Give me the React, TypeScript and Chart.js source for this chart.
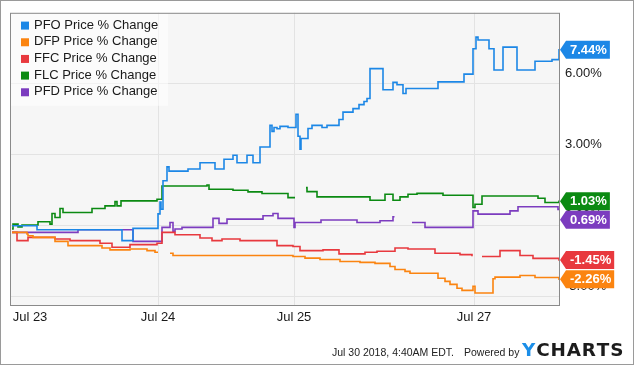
import { useEffect, useRef } from 'react';
import { Chart, registerables } from 'chart.js';

Chart.register(...registerables);

const FONT = "'Liberation Sans', Arial, sans-serif";

// x is a session index (0..550 across the shown period), y is price % change
const xTickValues = [20, 148, 284, 464];
const xTickLabels = ['Jul 23', 'Jul 24', 'Jul 25', 'Jul 27'];
const yTickValues = [-3, 0, 3, 6];

const seriesNames = ['PFO Price % Change', 'DFP Price % Change', 'FFC Price % Change', 'FLC Price % Change', 'PFD Price % Change'];
const seriesColors = ['#1c87e6', '#fb8410', '#e8393e', '#0b8a12', '#7c3cbf'];

type P = [number, number | null];

const pfoPoints: P[] = [
  [2, 0.0], [27, -0.17], [112, -0.63], [123, -0.11], [148, 0.5], [150, 1.0], [151, 0.7], [153, 1.9],
  [157, 2.49], [159, 2.31], [178, 2.4], [190, 2.66], [205, 2.4], [214, 2.81], [223, 2.98], [227, 2.66],
  [237, 2.98], [243, 2.66], [250, 3.33], [260, 4.24], [262, 3.99], [264, 4.15], [267, 4.1], [270, 4.2],
  [278, 4.15], [286, 4.71], [288, 3.78], [290, 3.23], [291, 3.69], [298, 4.11], [302, 4.24], [312, 4.15],
  [317, 4.24], [329, 4.49], [333, 4.8], [343, 4.95], [349, 5.12], [354, 5.25], [357, 5.38], [360, 6.64],
  [373, 5.75], [383, 6.06], [387, 5.96], [393, 5.59], [396, 5.8], [428, 6.08], [454, 6.41], [463, 7.48],
  [466, 7.97], [468, 7.85], [479, 7.48], [484, 6.58], [493, 7.55], [507, 6.58], [525, 6.95], [542, 7.02],
  [549, 7.44], [550, 7.44],
];

const dfpPoints: P[] = [
  [2, -0.28], [17, -0.35], [18, -0.42], [23, -0.49], [45, -0.66], [58, -0.84], [92, -0.94], [100, -1.02],
  [120, -0.98], [137, -1.05], [145, -1.12], [148, -1.12], [149, null], [160, -1.16], [163, -1.26],
  [283, -1.3], [295, -1.37], [310, -1.43], [330, -1.51], [350, -1.55], [365, -1.59], [380, -1.72],
  [385, -1.85], [395, -1.93], [400, -2.01], [428, -2.22], [435, -2.35], [440, -2.48], [447, -2.64],
  [452, -2.73], [463, -2.56], [465, -2.84], [483, -2.24], [485, -2.17], [510, -2.1], [525, -2.19],
  [549, -2.26], [550, -2.26],
];

const ffcPoints: P[] = [
  [2, -0.28], [7, -0.63], [18, -0.49], [45, -0.56], [60, -0.63], [90, -0.74], [102, -0.91], [120, -0.8],
  [147, -0.74], [152, -0.28], [165, -0.38], [190, -0.52], [202, -0.63], [212, -0.56], [230, -0.63],
  [267, -0.84], [283, -0.88], [290, -1.05], [313, -1.02], [329, -1.19], [355, -1.12], [367, -1.08],
  [385, -0.94], [398, -0.98], [425, -1.16], [450, -1.22], [462, -1.29], [463, null], [472, -1.3],
  [490, -1.05], [510, -1.26], [523, -1.38], [549, -1.45], [550, -1.45],
];

const flcPoints: P[] = [
  [2, -0.14], [3, 0.07], [8, -0.05], [12, 0.03], [28, 0.17], [40, 0.07], [42, 0.52], [45, 0.35],
  [50, 0.73], [53, 0.56], [82, 0.73], [95, 0.84], [105, 1.02], [107, 0.84], [111, 1.05], [147, 1.12],
  [152, 1.68], [197, 1.72], [199, 1.54], [223, 1.5], [238, 1.43], [252, 1.36], [278, 1.19], [285, 1.19],
  [286, null], [296, 1.61], [297, 1.44], [307, 1.22], [360, 1.08], [375, 1.33], [383, 1.08], [390, 1.22],
  [398, 1.33], [407, 1.37], [433, 1.29], [463, 0.77], [465, 0.91], [472, 1.26], [528, 1.16], [535, 0.98],
  [549, 1.03], [550, 1.03],
];

const pfdPoints: P[] = [
  [2, -0.28], [68, -0.17], [123, -0.66], [152, -0.07], [160, 0.14], [163, -0.24], [165, -0.14],
  [172, -0.07], [203, 0.31], [209, 0.1], [217, 0.28], [253, 0.42], [263, 0.52], [268, 0.31],
  [284, -0.07], [285, 0.14], [311, 0.24], [347, 0.14], [370, 0.21], [383, 0.38], [384.5, 0.38],
  [385, null], [402, 0.14], [415, -0.07], [463, 0.63], [468, 0.49], [500, 0.63], [508, 0.8],
  [548, 0.69], [550, 0.69],
];

const seriesPoints = [pfoPoints, dfpPoints, ffcPoints, flcPoints, pfdPoints];

const plotBgPlugin = {
  id: 'plotBg',
  beforeDraw(chart: any) {
    const { ctx, chartArea: a } = chart;
    ctx.save();
    ctx.fillStyle = '#ffffff';
    ctx.fillRect(0, 0, chart.width, chart.height);
    ctx.fillStyle = '#f6f6f6';
    ctx.fillRect(a.left, a.top, a.right - a.left, a.bottom - a.top);
    ctx.restore();
  },
  beforeDatasetsDraw(chart: any) {
    const { ctx, chartArea: a } = chart;
    ctx.save();
    // legend box
    ctx.fillStyle = 'rgba(255,255,255,0.55)';
    ctx.fillRect(a.left, a.top, 158, 93);
    ctx.font = `13px ${FONT}`;
    ctx.textBaseline = 'middle';
    chart.data.datasets.forEach((ds: any, i: number) => {
      const cy = a.top + 12.8 + i * 16.67;
      ctx.fillStyle = ds.borderColor;
      ctx.fillRect(a.left + 11, cy - 4, 8, 8);
      ctx.fillStyle = '#1a1a1a';
      ctx.fillText(ds.label, a.left + 24, cy - 0.5);
    });
    ctx.restore();
  },
  afterDraw(chart: any) {
    const { ctx, chartArea: a } = chart;
    const yScale = chart.scales.y;
    ctx.save();
    // plot border
    ctx.strokeStyle = '#8a8a8a';
    ctx.lineWidth = 1;
    ctx.strokeRect(a.left + 0.5, a.top + 0.5, a.right - a.left - 1, a.bottom - a.top);
    // outer border
    ctx.strokeStyle = '#9a9a9a';
    ctx.strokeRect(0.5, 0.5, 633, 364);

    // value badges
    const tags = chart.data.datasets.map((ds: any) => {
      const pts = ds.data.filter((p: any) => p.y !== null);
      const v = pts[pts.length - 1].y;
      return { v, y: yScale.getPixelForValue(v), color: ds.borderColor };
    });
    tags.sort((p: any, q: any) => p.y - q.y);
    for (let i = 1; i < tags.length; i++) {
      if (tags[i].y < tags[i - 1].y + 18.5) tags[i].y = tags[i - 1].y + 18.5;
    }
    ctx.font = `bold 13px ${FONT}`;
    ctx.textBaseline = 'middle';
    tags.forEach((t: any) => {
      const text = t.v.toFixed(2) + '%';
      const w = ctx.measureText(text).width + 7;
      const x0 = a.right;
      const h = 9;
      ctx.fillStyle = t.color;
      ctx.beginPath();
      ctx.moveTo(x0, t.y);
      ctx.lineTo(x0 + 6, t.y - h);
      ctx.lineTo(x0 + 6 + w, t.y - h);
      ctx.lineTo(x0 + 6 + w, t.y + h);
      ctx.lineTo(x0 + 6, t.y + h);
      ctx.closePath();
      ctx.fill();
      ctx.fillStyle = '#ffffff';
      ctx.fillText(text, x0 + 10, t.y + 0.5);
    });

    // footer
    ctx.fillStyle = '#222222';
    ctx.font = `10.5px ${FONT}`;
    ctx.textBaseline = 'alphabetic';
    ctx.fillText('Jul 30 2018, 4:40AM EDT.', 332, 355.5);
    ctx.fillText('Powered by', 464, 355.5);
    ctx.font = "bold 17px 'DejaVu Sans', sans-serif";
    const brand = 'YCHARTS';
    const letters = brand.split('');
    const widths = letters.map((c) => ctx.measureText(c).width);
    const spacing = 0.8;
    const total = widths.reduce((s, w) => s + w, 0) + spacing * (letters.length - 1);
    const sx = 101.5 / total;
    ctx.translate(522, 356);
    ctx.scale(sx, 1);
    let bx = 0;
    letters.forEach((c, i) => {
      ctx.fillStyle = i === 0 ? '#1b8ee8' : '#1c1c1c';
      ctx.fillText(c, bx, 0);
      bx += widths[i] + spacing;
    });
    ctx.restore();
  },
};

export default function App() {
  const ref = useRef<HTMLCanvasElement | null>(null);
  useEffect(() => {
    if (!ref.current) return;
    const chart = new Chart(ref.current, {
      type: 'line',
      data: {
        datasets: seriesPoints.map((pts, i) => ({
          label: seriesNames[i],
          data: pts.map(([x, y]) => ({ x, y })),
          borderColor: seriesColors[i],
          backgroundColor: seriesColors[i],
          borderWidth: 1.6,
          pointRadius: 0,
          stepped: true,
          spanGaps: false,
          fill: false,
        })),
      },
      options: {
        animation: false,
        responsive: false,
        devicePixelRatio: 1,
        layout: { padding: { left: 10, top: 10, right: 0, bottom: 0 } },
        plugins: { legend: { display: false }, tooltip: { enabled: false } },
        scales: {
          x: {
            type: 'linear',
            min: 0,
            max: 550,
            afterBuildTicks: (s: any) => {
              s.ticks = xTickValues.map((v) => ({ value: v }));
            },
            afterFit: (s: any) => {
              s.height = 61;
            },
            grid: {
              drawTicks: false,
              color: (c: any) => (c.tick && c.tick.value === xTickValues[0] ? 'rgba(0,0,0,0)' : '#e3e3e3'),
            },
            border: { display: false },
            ticks: {
              autoSkip: false,
              maxRotation: 0,
              padding: 5,
              color: '#1a1a1a',
              font: { family: FONT, size: 13 },
              callback: (v: any) => xTickLabels[xTickValues.indexOf(Number(v))] ?? '',
            },
          },
          y: {
            type: 'linear',
            position: 'right',
            min: -3.35,
            max: 9.0,
            afterBuildTicks: (s: any) => {
              s.ticks = yTickValues.map((v) => ({ value: v }));
            },
            afterFit: (s: any) => {
              s.width = 75;
            },
            grid: { drawTicks: false, color: '#e3e3e3' },
            border: { display: false },
            ticks: {
              padding: 5,
              labelOffset: -10,
              color: '#1a1a1a',
              font: { family: FONT, size: 13 },
              callback: (v: any) => Number(v).toFixed(2) + '%',
            },
          },
        },
      },
      plugins: [plotBgPlugin],
    } as any);
    return () => chart.destroy();
  }, []);
  return (
    <div style={{ position: 'absolute', left: 0, top: 0, width: 635, height: 366, background: '#fff' }}>
      <canvas ref={ref} width={635} height={366} style={{ display: 'block' }} />
    </div>
  );
}
